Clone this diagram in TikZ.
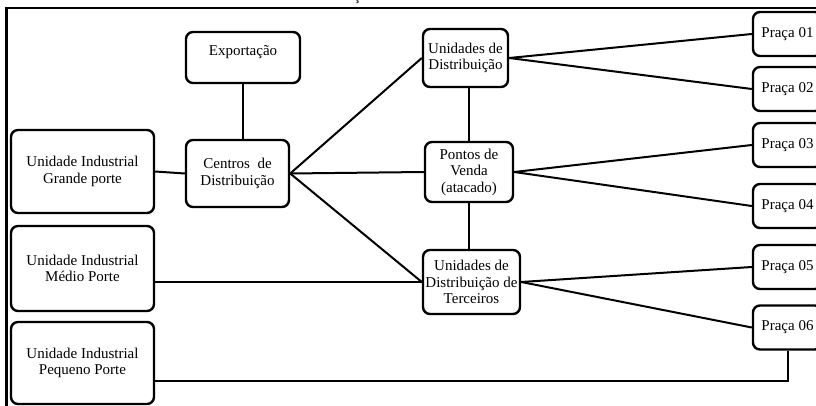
\documentclass[tikz,border=0pt]{standalone}
\usepackage{fontspec}
\setmainfont{Liberation Serif}
\begin{document}
\begin{tikzpicture}[x=1pt,y=-1pt,
  box/.style={draw, line width=2.4pt, rounded corners=7pt, align=center,
    inner sep=0pt, font=\fontsize{15}{16.5}\selectfont},
  praca/.style={box, minimum width=69pt, minimum height=44pt},
  link/.style={line width=2pt},
  frame/.style={line width=2.2pt}]
\useasboundingbox (0,0) rectangle (816,406);
\clip (0,0) rectangle (816,406);

% outer frame (top and left edges)
\draw[frame] (5,8) -- (830,8);
\draw[frame] (6.5,7) -- (6.5,420);
% tail of the caption letter above the frame
\node[anchor=base, inner sep=0pt, font=\fontsize{15}{16.5}\selectfont] (cap) at (357,0.5) {ç};

% producers
\node[box, minimum width=143pt, minimum height=83pt] (ig) at (82.5,171.5) {Unidade Industrial\\Grande porte};
\node[box, minimum width=143pt, minimum height=85pt] (im) at (82.5,268.5) {Unidade Industrial\\Médio Porte};
\node[box, minimum width=143pt, minimum height=82pt] (ip) at (82.5,363) {Unidade Industrial\\Pequeno Porte};

% distribution hubs
\node[box, minimum width=114pt, minimum height=51pt, text height=10pt, text depth=13pt] (exp) at (243,57.5) {Exportação};
\node[box, minimum width=103pt, minimum height=67pt] (cd) at (237.5,173.5) {Centros~ de\\Distribuição};
\node[box, minimum width=85pt, minimum height=58pt] (ud) at (465.5,58) {Unidades de\\Distribuição};
\node[box, minimum width=88pt, minimum height=60pt] (pv) at (469,172) {Pontos de\\Venda\\(atacado)};
\node[box, minimum width=97pt, minimum height=64pt] (tc) at (471.5,282) {Unidades de\\Distribuição de\\Terceiros};

% market squares
\node[praca] (p1) at (787.5,34) {Praça 01};
\node[praca] (p2) at (787.5,89) {Praça 02};
\node[praca] (p3) at (787.5,145) {Praça 03};
\node[praca] (p4) at (787.5,206) {Praça 04};
\node[praca] (p5) at (787.5,267) {Praça 05};
\node[praca] (p6) at (787.5,327.5) {Praça 06};

\coordinate (turn) at (787.5,381);

% connections
\draw[link] (exp.south) -- (exp.south |- cd.north);
\draw[link] (ig.east) -- (cd.west);
\draw[link] (cd.east) -- (ud.west);
\draw[link] (cd.east) -- (pv.west);
\draw[link] (cd.east) -- (tc.west);
\draw[link] (tc.west -| im.east) -- (tc.west);
\draw[link] (turn -| ip.east) -- (turn) -- (p6.south);
\draw[link] (pv.north |- ud.south) -- (pv.north);
\draw[link] (pv.south) -- (pv.south |- tc.north);
\draw[link] (ud.east) -- (p1.west);
\draw[link] (ud.east) -- (p2.west);
\draw[link] (pv.east) -- (p3.west);
\draw[link] (pv.east) -- (p4.west);
\draw[link] (tc.east) -- (p5.west);
\draw[link] (tc.east) -- (p6.west);
\end{tikzpicture}
\end{document}
